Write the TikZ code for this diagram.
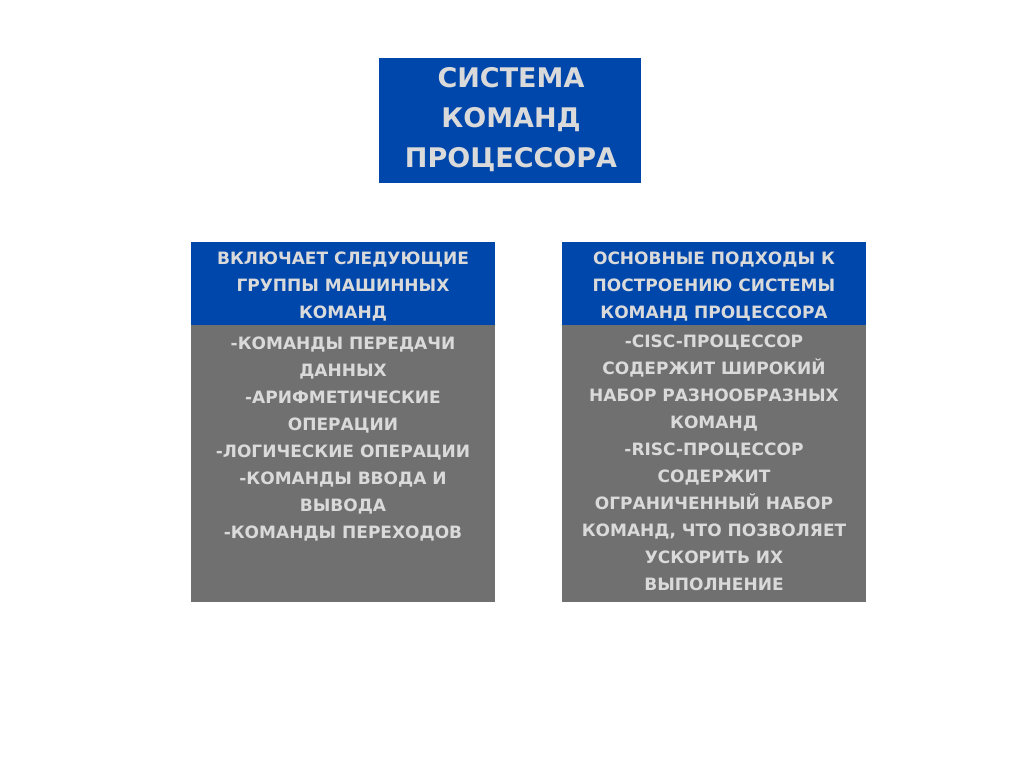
\documentclass[tikz,border=0pt]{standalone}
\usepackage{fontspec}
\setmainfont{DejaVu Sans}
\definecolor{hdrblue}{RGB}{0,71,171}
\definecolor{bodygray}{RGB}{112,112,112}
\definecolor{txtgray}{RGB}{218,218,218}
\tikzset{
  box/.style={draw=none, inner sep=0pt, anchor=north west},
  bluebox/.style={box, fill=hdrblue},
  graybox/.style={box, fill=bodygray},
  lbl/.style={inner sep=0pt, anchor=north, align=center, text=txtgray,
    font=\bfseries\fontsize{17}{27}\selectfont},
  ttl/.style={inner sep=0pt, anchor=north, align=center, text=txtgray,
    font=\bfseries\fontsize{27}{40}\selectfont},
}
\begin{document}
\begin{tikzpicture}[x=1pt,y=-1pt]
\useasboundingbox[fill=white] (0,0) rectangle (1024,768);
\node[bluebox, minimum width=262pt, minimum height=125pt] (title) at (379,58) {};
\node[bluebox, minimum width=304pt, minimum height=83pt] (lhead) at (191,242) {};
\node[graybox, minimum width=304pt, minimum height=277pt] (lbody) at (191,325) {};
\node[bluebox, minimum width=304pt, minimum height=83pt] (rhead) at (562,242) {};
\node[graybox, minimum width=304pt, minimum height=277pt] (rbody) at (562,325) {};

\node[ttl] (titletext) at (511,67) {СИСТЕМА\\КОМАНД\\ПРОЦЕССОРА};
\node[lbl] (lheadtext) at (343,252) {ВКЛЮЧАЕТ СЛЕДУЮЩИЕ\\ГРУППЫ МАШИННЫХ\\КОМАНД};
\node[lbl] (rheadtext) at (714,252) {ОСНОВНЫЕ ПОДХОДЫ К\\ПОСТРОЕНИЮ СИСТЕМЫ\\КОМАНД ПРОЦЕССОРА};
\node[lbl] (lbodytext) at (343,337) {-КОМАНДЫ ПЕРЕДАЧИ\\ДАННЫХ\\-АРИФМЕТИЧЕСКИЕ\\ОПЕРАЦИИ\\-ЛОГИЧЕСКИЕ ОПЕРАЦИИ\\-КОМАНДЫ ВВОДА И\\ВЫВОДА\\-КОМАНДЫ ПЕРЕХОДОВ};
\node[lbl] (rbodytext) at (714,335) {-CISC-ПРОЦЕССОР\\СОДЕРЖИТ ШИРОКИЙ\\НАБОР РАЗНООБРАЗНЫХ\\КОМАНД\\-RISC-ПРОЦЕССОР\\СОДЕРЖИТ\\ОГРАНИЧЕННЫЙ НАБОР\\КОМАНД, ЧТО ПОЗВОЛЯЕТ\\УСКОРИТЬ ИХ\\ВЫПОЛНЕНИЕ};
\end{tikzpicture}
\end{document}
